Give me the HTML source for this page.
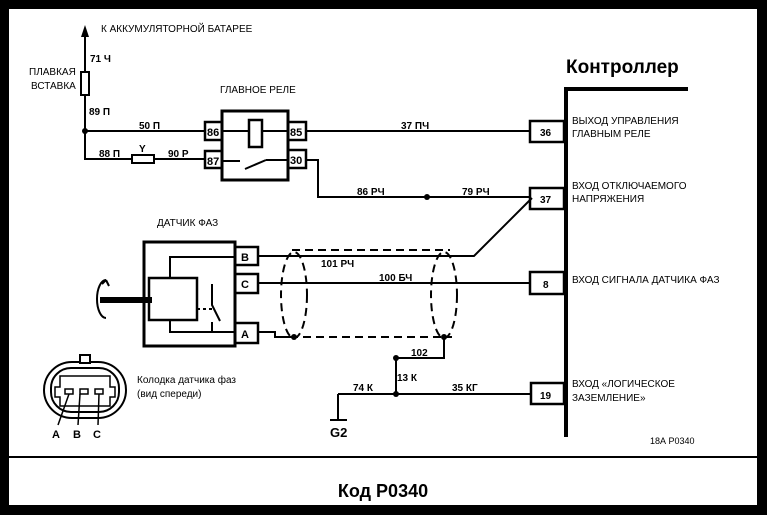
<!DOCTYPE html>
<html><head><meta charset="utf-8"><style>
html,body{margin:0;padding:0;background:#000;}
svg{display:block;}
text{font-family:"Liberation Sans","DejaVu Sans",sans-serif;fill:#000;}
</style></head><body>
<svg width="767" height="515" viewBox="0 0 767 515" xmlns="http://www.w3.org/2000/svg">
<rect x="0" y="0" width="767" height="515" fill="#000"/>
<rect x="9" y="9" width="748" height="496" fill="#fff"/>
<g stroke="#000" stroke-width="2" fill="none">
<!-- battery feed -->
<line x1="85" y1="36" x2="85" y2="160"/>
<rect x="81" y="72" width="8" height="23" fill="#fff"/>
<line x1="85" y1="131" x2="205" y2="131"/>
<line x1="85" y1="159" x2="205" y2="159"/>
<rect x="132" y="155" width="22" height="8" fill="#fff"/>
<!-- relay -->
<rect x="222" y="111" width="66" height="69" stroke-width="3"/>
<rect x="205" y="122" width="17" height="18" stroke-width="2.5"/>
<rect x="205" y="151" width="17" height="17" stroke-width="2.5"/>
<rect x="288" y="122" width="18" height="18" stroke-width="2.5"/>
<rect x="288" y="150" width="18" height="18" stroke-width="2.5"/>
<line x1="222" y1="131" x2="249" y2="131"/>
<rect x="249" y="120" width="13" height="27" stroke-width="2.5"/>
<line x1="262" y1="131" x2="288" y2="131"/>
<line x1="222" y1="161" x2="240" y2="161"/>
<line x1="245" y1="169" x2="266" y2="160"/>
<line x1="266" y1="160" x2="288" y2="160"/>
<line x1="306" y1="131" x2="530" y2="131"/>
<polyline points="306,160 318,160 318,197 530,197"/>
<!-- controller -->
<line x1="566" y1="88" x2="566" y2="437" stroke-width="4"/>
<line x1="564" y1="89" x2="688" y2="89" stroke-width="4"/>
<rect x="530" y="121" width="34" height="21" stroke-width="2.5"/>
<rect x="530" y="188" width="34" height="21" stroke-width="2.5"/>
<rect x="530" y="272" width="34" height="22" stroke-width="2.5"/>
<rect x="531" y="383" width="33" height="21" stroke-width="2.5"/>
<!-- sensor -->
<rect x="144" y="242" width="91" height="104" stroke-width="3"/>
<rect x="235" y="247" width="23" height="18" stroke-width="2.5"/>
<rect x="235" y="274" width="23" height="19" stroke-width="2.5"/>
<rect x="235" y="323" width="23" height="20" stroke-width="2.5"/>
<polyline points="235,257 170,257 170,278"/>
<rect x="149" y="278" width="48" height="42" stroke-width="2.5"/>
<polyline points="170,320 170,332 235,332"/>
<polyline points="212,284 212,305 220,321"/>
<line x1="197" y1="309" x2="212" y2="309" stroke-dasharray="3,3"/>
<line x1="212" y1="322" x2="212" y2="333"/>
<line x1="100" y1="300" x2="152" y2="300" stroke-width="6"/>
<path d="M106 280 A9 19 0 1 0 106 318" />
<path d="M106 280 l3 6 M106 280 l-4 4" />
<polyline points="258,256 474,256 532,198"/>
<line x1="258" y1="283" x2="530" y2="283"/>
<polyline points="258,332 275,332 275,337 290,337"/>
<!-- shield -->
<line x1="292" y1="250" x2="450" y2="250" stroke-dasharray="8,5"/>
<line x1="290" y1="337" x2="452" y2="337" stroke-dasharray="8,5"/>
<ellipse cx="294" cy="295" rx="13" ry="43" stroke-dasharray="8,5"/>
<ellipse cx="444" cy="295" rx="13" ry="43" stroke-dasharray="8,5"/>
<polyline points="444,338 444,358 396,358 396,394"/>
<line x1="338" y1="394" x2="531" y2="394"/>
<line x1="338" y1="394" x2="338" y2="420"/>
<line x1="330" y1="420" x2="347" y2="420"/>
<!-- connector -->
<rect x="44" y="362" width="82" height="56" rx="28" ry="28"/>
<rect x="80" y="355" width="10" height="8" fill="#fff"/>
<rect x="51" y="368" width="68" height="44" rx="20" ry="20"/>
<path d="M60 376 H110 V387 H115 V397 H110 V406 H60 V397 H55 V387 H60 Z" stroke-width="1.5"/>
<rect x="65" y="389" width="8" height="5" stroke-width="1.5"/>
<rect x="80" y="389" width="8" height="5" stroke-width="1.5"/>
<rect x="95" y="389" width="8" height="5" stroke-width="1.5"/>
<line x1="69" y1="394" x2="58" y2="425" stroke-width="1.5"/>
<line x1="80" y1="394" x2="78" y2="425" stroke-width="1.5"/>
<line x1="99" y1="394" x2="98" y2="425" stroke-width="1.5"/>
<!-- separator -->
<line x1="9" y1="457" x2="757" y2="457" stroke-width="2"/>
</g>
<polygon points="85,25 81,37 89,37" fill="#000"/>
<circle cx="85" cy="131" r="3" fill="#000"/>
<circle cx="427" cy="197" r="3" fill="#000"/>
<circle cx="396" cy="358" r="3" fill="#000"/>
<circle cx="396" cy="394" r="3" fill="#000"/>
<circle cx="294" cy="337" r="3" fill="#000"/>
<circle cx="444" cy="337" r="3" fill="#000"/>
<g font-size="10">
<text x="101" y="32">К АККУМУЛЯТОРНОЙ БАТАРЕЕ</text>
<text x="29" y="75">ПЛАВКАЯ</text>
<text x="31" y="89">ВСТАВКА</text>
<text x="220" y="93">ГЛАВНОЕ РЕЛЕ</text>
<text x="157" y="226">ДАТЧИК ФАЗ</text>
<text x="137" y="383">Колодка датчика фаз</text>
<text x="137" y="397">(вид спереди)</text>
<text x="572" y="124">ВЫХОД УПРАВЛЕНИЯ</text>
<text x="572" y="137">ГЛАВНЫМ РЕЛЕ</text>
<text x="572" y="189">ВХОД ОТКЛЮЧАЕМОГО</text>
<text x="572" y="202">НАПРЯЖЕНИЯ</text>
<text x="572" y="283">ВХОД СИГНАЛА ДАТЧИКА ФАЗ</text>
<text x="572" y="387">ВХОД «ЛОГИЧЕСКОЕ</text>
<text x="572" y="401">ЗАЗЕМЛЕНИЕ»</text>
<text x="650" y="444" font-size="9">18А P0340</text>
</g>
<g font-size="10" font-weight="bold">
<text x="90" y="62">71 Ч</text>
<text x="89" y="115">89 П</text>
<text x="139" y="129">50 П</text>
<text x="99" y="157">88 П</text>
<text x="139" y="152">Y</text>
<text x="168" y="157">90 Р</text>
<text x="401" y="129">37 ПЧ</text>
<text x="357" y="195">86 РЧ</text>
<text x="462" y="195">79 РЧ</text>
<text x="321" y="267">101 РЧ</text>
<text x="379" y="281">100 БЧ</text>
<text x="411" y="356">102</text>
<text x="397" y="381">13 К</text>
<text x="353" y="391">74 К</text>
<text x="452" y="391">35 КГ</text>
<text x="540" y="136">36</text>
<text x="540" y="203">37</text>
<text x="543" y="288">8</text>
<text x="540" y="399">19</text>
<text x="207" y="136" font-size="11">86</text>
<text x="207" y="165" font-size="11">87</text>
<text x="290" y="136" font-size="11">85</text>
<text x="290" y="164" font-size="11">30</text>
<text x="241" y="261" font-size="11">B</text>
<text x="241" y="288" font-size="11">C</text>
<text x="241" y="338" font-size="11">A</text>
<text x="52" y="438" font-size="11">A</text>
<text x="73" y="438" font-size="11">B</text>
<text x="93" y="438" font-size="11">C</text>
<text x="330" y="437" font-size="13">G2</text>
</g>
<text x="566" y="73" font-size="19" font-weight="bold">Контроллер</text>
<text x="383" y="497" font-size="18" font-weight="bold" text-anchor="middle">Код P0340</text>
</svg>
</body></html>
